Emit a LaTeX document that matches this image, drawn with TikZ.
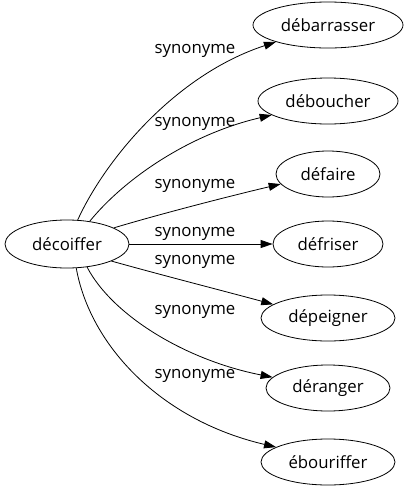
\documentclass[tikz,border=0pt]{standalone}
\usepackage{fontspec}
\setmainfont{Open Sans}
\usetikzlibrary{shapes.geometric,arrows.meta}
\begin{document}
\begin{tikzpicture}[x=1pt,y=-1pt,
  word/.style={ellipse,draw,line width=0.8pt,inner sep=0pt,minimum height=46pt,font=\fontsize{16.8}{20}\selectfont},
  lab/.style={inner sep=0pt,font=\fontsize{16.8}{20}\selectfont},
  edge/.style={-{Triangle[length=12pt,width=8pt]},line width=0.8pt}]
\useasboundingbox (0,0) rectangle (408,491);
\node[word,minimum width=124pt,minimum height=48pt] (a) at (67,244) {décoiffer};
\node[word,minimum width=150pt] (b1) at (328,25) {débarrasser};
\node[word,minimum width=140pt] (b2) at (328,101) {déboucher};
\node[word,minimum width=104pt] (b3) at (328,174) {défaire};
\node[word,minimum width=110pt] (b4) at (328,244) {défriser};
\node[word,minimum width=134pt] (b5) at (328,318) {dépeigner};
\node[word,minimum width=124pt] (b6) at (328,388) {déranger};
\node[word,minimum width=134pt] (b7) at (328,462) {ébouriffer};
\draw[edge] (a.66) .. controls (105,160) and (175,75) .. (b1.198);
\draw[edge] (a.45) .. controls (125,178) and (190,134) .. (b2.194);
\draw[edge] (a.19) .. controls (160,214) and (230,196) .. (b3.192);
\draw[edge] (a) -- (b4);
\draw[edge] (a.-21) .. controls (165,276) and (220,290) .. (b5.166);
\draw[edge] (a.-49) .. controls (112,315) and (185,360) .. (b6.169);
\draw[edge] (a.-69) .. controls (90,345) and (160,420) .. (b7.164);
\node[lab] (l1) at (195,51) {synonyme};
\node[lab] (l2) at (195,124) {synonyme};
\node[lab] (l3) at (195,186) {synonyme};
\node[lab] (l4) at (195,234) {synonyme};
\node[lab] (l5) at (195,262) {synonyme};
\node[lab] (l6) at (195,312) {synonyme};
\node[lab] (l7) at (195,376) {synonyme};
\end{tikzpicture}
\end{document}
